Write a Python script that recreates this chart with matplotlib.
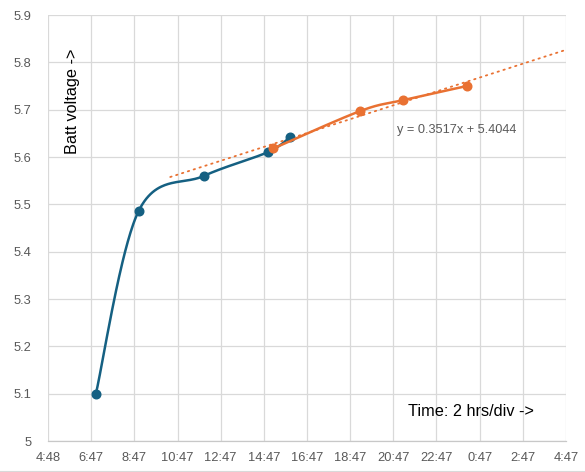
import numpy as np
import matplotlib
matplotlib.use("Agg")
import matplotlib.pyplot as plt
from matplotlib.ticker import FixedLocator

# ---- data (hours since midnight of day 1, volts) ----
blue_hours = [7.02, 9.00, 12.02, 14.97, 16.02]
blue_volts = [5.100, 5.486, 5.560, 5.610, 5.642]
orange_hours = [15.24, 19.26, 21.24, 24.21]
orange_volts = [5.618, 5.697, 5.720, 5.750]

trend_slope = 0.3517
trend_intercept = 5.4044
trend_start_day = 0.436   # backward forecast start (days)
trend_end_day = 1.2

x_tick_labels = ['4:48', '6:47', '8:47', '10:47', '12:47', '14:47', '16:47',
                 '18:47', '20:47', '22:47', '0:47', '2:47', '4:47']
y_tick_labels = ['5', '5.1', '5.2', '5.3', '5.4', '5.5', '5.6', '5.7', '5.8', '5.9']

BLUE = '#156082'
ORANGE = '#E97132'
GRID = '#D9D9D9'
TXT = '#595959'

plt.rcParams['font.family'] = ['Liberation Sans', 'DejaVu Sans']

fig = plt.figure(figsize=(5.85, 4.72), dpi=100)
ax = fig.add_axes([48/585, 31/472, 518/585, 426/472])

xmin, xmax = 0.2, 1.2
ymin, ymax = 5.0, 5.9
ax.set_xlim(xmin, xmax)
ax.set_ylim(ymin, ymax)

xt = [xmin + i * (2/24) for i in range(len(x_tick_labels))]
ax.xaxis.set_major_locator(FixedLocator(xt))
ax.set_xticklabels(x_tick_labels)
yt = [ymin + i * 0.1 for i in range(len(y_tick_labels))]
ax.yaxis.set_major_locator(FixedLocator(yt))
ax.set_yticklabels(y_tick_labels)

ax.grid(True, color=GRID, linewidth=0.9)
ax.set_axisbelow(True)
for s in ['top', 'right', 'left']:
    ax.spines[s].set_visible(False)
ax.spines['bottom'].set_color('#C8C8C8')
ax.spines['bottom'].set_linewidth(0.9)
ax.tick_params(length=0, colors=TXT, labelsize=9.3, pad=8)
ax.tick_params(axis='y', pad=12)


def excel_smooth(xs, ys, n=60):
    # Catmull-Rom style bezier (tension 1/6) computed in display space
    pts = ax.transData.transform(np.column_stack([xs, ys]))
    P = np.vstack([pts[0], pts, pts[-1]])
    out = []
    for i in range(1, len(P) - 2):
        p0, p1, p2, p3 = P[i-1], P[i], P[i+1], P[i+2]
        c1 = p1 + (p2 - p0) / 6.0
        c2 = p2 - (p3 - p1) / 6.0
        t = np.linspace(0, 1, n)[:, None]
        seg = ((1-t)**3) * p1 + 3*((1-t)**2)*t*c1 + 3*(1-t)*t**2*c2 + t**3*p2
        out.append(seg)
    curve = np.vstack(out)
    back = ax.transData.inverted().transform(curve)
    return back[:, 0], back[:, 1]


bx = np.array(blue_hours) / 24.0
ox = np.array(orange_hours) / 24.0

sx, sy = excel_smooth(bx, blue_volts)
ax.plot(sx, sy, color=BLUE, linewidth=1.8, zorder=3, solid_capstyle='round')
ax.plot(bx, blue_volts, 'o', color=BLUE, markersize=6.2, zorder=4)

tx = np.array([trend_start_day, trend_end_day])
ax.plot(tx, trend_slope * tx + trend_intercept, color=ORANGE, linewidth=1.3,
        linestyle=(0, (0.8, 2.6)), dash_capstyle='round', zorder=3)

sx2, sy2 = excel_smooth(ox, orange_volts)
ax.plot(sx2, sy2, color=ORANGE, linewidth=1.8, zorder=5, solid_capstyle='round')
ax.plot(ox, orange_volts, 'o', color=ORANGE, markersize=6.2, zorder=6)

fig.text(457/585, 1 - 130/472, f'y = {trend_slope}x + {trend_intercept}',
         ha='center', va='center', fontsize=9.2, color=TXT)
fig.text(72/585, 1 - 101/472, 'Batt voltage ->',
         rotation=90, ha='center', va='center', fontsize=11.7, color='black')
fig.text(471/585, 1 - 412/472, 'Time: 2 hrs/div ->',
         ha='center', va='center', fontsize=11.7, color='black')

fig.add_artist(plt.Line2D([0, 1], [1.5/472, 1.5/472], color='#D9D9D9',
                          linewidth=0.8, transform=fig.transFigure))

fig.savefig('out.png', dpi=100)
